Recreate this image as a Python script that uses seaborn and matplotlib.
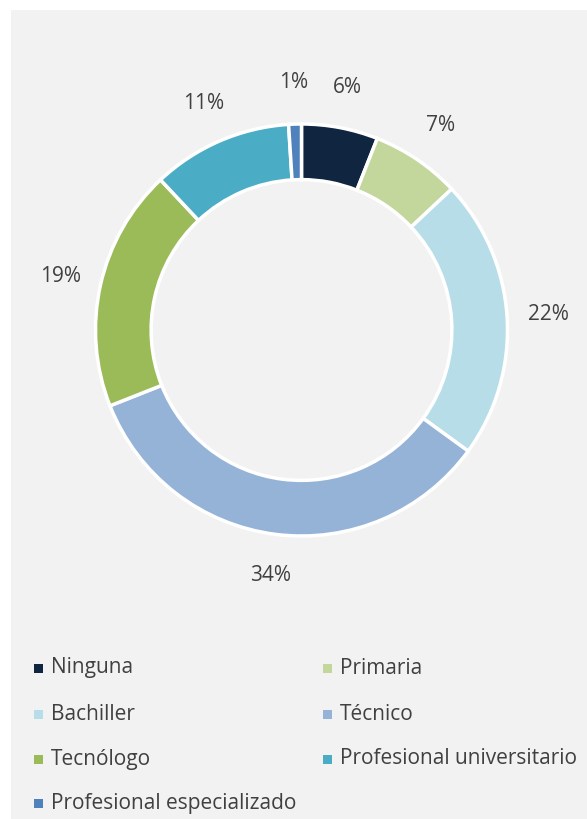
import matplotlib
matplotlib.use("Agg")
import matplotlib.pyplot as plt
from matplotlib.patches import Rectangle
import seaborn as sns

categories = ["Ninguna", "Primaria", "Bachiller", "Técnico", "Tecnólogo",
              "Profesional universitario", "Profesional especializado"]
shares = [6, 7, 22, 34, 19, 11, 1]
colors = ["#10253f", "#c3d69b", "#b7dee8", "#95b3d7", "#9bbb59", "#4bacc6", "#4f81bd"]

sns.set_theme(style="white")
plt.rcParams["font.family"] = ["Open Sans", "DejaVu Sans"]

W, H = 587, 819
fig = plt.figure(figsize=(W / 100, H / 100), dpi=100)
fig.patch.set_facecolor("white")
# gray chart area
fig.patches.append(Rectangle((11 / W, 0), 1 - 11 / W, 1 - 10 / H,
                             transform=fig.transFigure, facecolor="#f2f2f2",
                             edgecolor="none", zorder=-5))

cx, cy, r = 301.5, 330, 206
ax = fig.add_axes([(cx - r) / W, (H - cy - r) / H, 2 * r / W, 2 * r / H])
ax.set_facecolor("none")
ax.set_zorder(2)
wedges, texts, autotexts = ax.pie(
    shares, colors=colors, startangle=90, counterclock=False, radius=1,
    autopct="%1.0f%%", pctdistance=1.2,
    wedgeprops=dict(width=0.27, edgecolor="white", linewidth=2.5),
    textprops=dict(color="#404040", fontsize=15))
ax.set_xlim(-1, 1)
ax.set_ylim(-1, 1)
ax.set_aspect("equal")
ax.axis("off")

# legend laid out in two columns, row by row
rows_y = [668, 714, 759, 803]
for i, (lab, col) in enumerate(zip(categories, colors)):
    row, c = divmod(i, 2)
    x = 34 + c * 289
    y = rows_y[row]
    fig.patches.append(Rectangle((x / W, (H - y - 4.5) / H), 9 / W, 9 / H,
                                 transform=fig.transFigure, facecolor=col,
                                 edgecolor="none", zorder=3))
    fig.text((x + 17) / W, (H - y) / H, lab, ha="left", va="center",
             fontsize=15, color="#404040")

fig.savefig("out.png", dpi=100)
